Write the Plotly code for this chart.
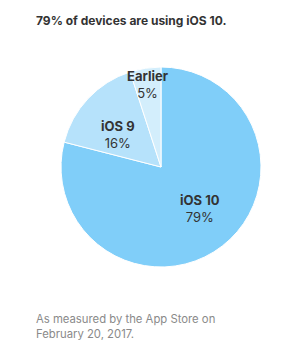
import numpy as np
import plotly.graph_objects as go

labels = ["iOS 10", "iOS 9", "Earlier"]
values = [79, 16, 5]
colors = ["#80CEF9", "#B6E2FB", "#D3EEFC"]
label_radius = [0.57, 0.54, 0.84]
label_angle_shift = [-6, -6, 0]  # degrees nudge from mid-angle

title_text = "79% of devices are using iOS 10."
footer_lines = ["As measured by the App Store on", "February 20, 2017."]

W, H = 308, 357
cx, cy, R = 161, 167, 100  # pie centre and radius in px

fig = go.Figure()
fig.add_trace(go.Pie(
    labels=labels, values=values, sort=False, direction="clockwise", rotation=0,
    marker=dict(colors=colors, line=dict(color="white", width=1)),
    textinfo="none", hoverinfo="label+percent", showlegend=False,
    domain=dict(x=[(cx - R) / W, (cx + R) / W], y=[1 - (cy + R) / H, 1 - (cy - R) / H]),
))

total = sum(values)
cum = np.cumsum([0] + values[:-1])
annotations = []
for lab, v, c0, rf, sh in zip(labels, values, cum, label_radius, label_angle_shift):
    mid = (c0 + v / 2) / total * 360 + sh
    a = np.deg2rad(mid)
    px = cx + rf * R * np.sin(a)
    py = cy - rf * R * np.cos(a)
    annotations.append(dict(
        x=px / W, y=1 - py / H, xref="paper", yref="paper", showarrow=False,
        text=f"<b>{lab}</b><br>{round(v / total * 100)}%",
        font=dict(family="Inter", size=13, color="#333333"),
        xanchor="center", yanchor="middle", align="center",
    ))

annotations.append(dict(
    x=34 / W, y=1 - 20 / H, xref="paper", yref="paper", showarrow=False,
    text=f"<b>{title_text}</b>", font=dict(family="Inter", size=12, color="#333333"),
    xanchor="left", yanchor="middle", align="left",
))
annotations.append(dict(
    x=34 / W, y=1 - 326 / H, xref="paper", yref="paper", showarrow=False,
    text="<br>".join(footer_lines), font=dict(family="Inter", size=11.3, color="#8a8a8a"),
    xanchor="left", yanchor="middle", align="left",
))

fig.update_layout(
    width=W, height=H, margin=dict(l=0, r=0, t=0, b=0),
    paper_bgcolor="white", plot_bgcolor="white",
    annotations=annotations,
)
fig.write_html("out.html")
